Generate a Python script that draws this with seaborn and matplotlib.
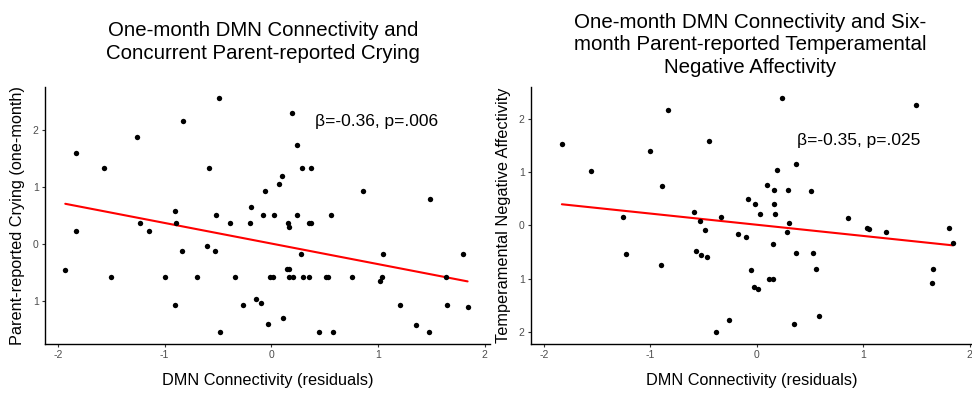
import numpy as np
import pandas as pd
import matplotlib
matplotlib.use("Agg")
import matplotlib.pyplot as plt
import seaborn as sns

# ---- data ----
crying_x = [-1.83, -1.83, -1.93, -1.565, -1.50, -1.26, -1.23, -1.15, -1.00, -0.906,
            -0.90, -0.89, -0.83, -0.84, -0.70, -0.60, -0.58, -0.53, -0.52, -0.49,
            -0.48, -0.39, -0.34, -0.26, -0.20, -0.185, -0.14, -0.10, -0.08, -0.056,
            -0.03, -0.015, 0.013, 0.025, 0.07, 0.097, 0.11, 0.15, 0.17, 0.156,
            0.17, 0.17, 0.20, 0.19, 0.24, 0.24, 0.28, 0.29, 0.30, 0.35,
            0.35, 0.37, 0.37, 0.45, 0.51, 0.53, 0.56, 0.58, 0.76, 0.86,
            1.02, 1.04, 1.05, 1.21, 1.36, 1.48, 1.49, 1.64, 1.65, 1.80, 1.84]
crying_y = [1.60, 0.23, -0.46, 1.33, -0.59, 1.88, 0.36, 0.23, -0.59, -1.07,
            0.57, 0.36, 2.15, -0.12, -0.59, -0.04, 1.33, -0.12, 0.50, 2.56,
            -1.55, 0.36, -0.59, -1.07, 0.36, 0.64, -0.97, -1.04, 0.50, 0.92,
            -1.41, -0.59, -0.59, 0.50, 1.05, 1.19, -1.31, -0.45, -0.45, 0.36,
            0.30, -0.59, -0.59, 2.29, 1.74, 0.50, -0.18, 1.33, -0.59, -0.59,
            0.36, 0.36, 1.33, -1.55, -0.59, -0.59, 0.50, -1.55, -0.59, 0.92,
            -0.66, -0.59, -0.18, -1.07, -1.43, -1.55, 0.78, -0.59, -1.07, -0.18, -1.11]

nega_x = [-1.83, -1.56, -1.26, -1.23, -1.00, -0.90, -0.89, -0.83, -0.59, -0.575,
          -0.53, -0.52, -0.49, -0.47, -0.45, -0.38, -0.34, -0.26, -0.18, -0.10,
          -0.08, -0.056, -0.03, -0.013, 0.012, 0.03, 0.097, 0.115, 0.15, 0.156,
          0.165, 0.165, 0.17, 0.19, 0.24, 0.28, 0.29, 0.305, 0.35, 0.365,
          0.37, 0.51, 0.53, 0.56, 0.58, 0.86, 1.03, 1.05, 1.21, 1.49,
          1.64, 1.65, 1.80, 1.84]
nega_y = [1.53, 1.02, 0.16, -0.54, 1.40, -0.74, 0.75, 2.17, 0.25, -0.49,
          0.09, -0.55, -0.09, -0.59, 1.58, -2.00, 0.16, -1.77, -0.16, -0.22,
          0.50, -0.83, -1.15, 0.41, -1.19, 0.21, 0.76, -1.01, -0.35, -1.00,
          0.66, 0.41, 0.21, 1.05, 2.40, -0.12, 0.66, 0.045, -1.85, 1.15,
          -0.51, 0.64, -0.51, -0.81, -1.71, 0.145, -0.04, -0.07, -0.12, 2.26,
          -1.08, -0.81, -0.04, -0.33]

x_ticks = [-2, -1, 0, 1, 2]
x_tick_labels = ["-2", "-1", "0", "1", "2"]
left_y_ticks = [-1, 0, 1, 2]
left_y_tick_labels = ["1", "0", "1", "2"]
right_y_ticks = [-2, -1, 0, 1, 2]
right_y_tick_labels = ["2", "1", "0", "1", "2"]

left_title = "One-month DMN Connectivity and\nConcurrent Parent-reported Crying"
right_title = "One-month DMN Connectivity and Six-\nmonth Parent-reported Temperamental\nNegative Affectivity"
left_ylabel = "Parent-reported Crying (one-month)"
right_ylabel = "Temperamental Negative Affectivity"
xlabel = "DMN Connectivity (residuals)"
left_note = "β=-0.36, p=.006"
right_note = "β=-0.35, p=.025"

# ---- style ----
sns.set_theme(style="ticks")
plt.rcParams["font.family"] = ["Liberation Sans", "DejaVu Sans"]
plt.rcParams["axes.unicode_minus"] = False

fig = plt.figure(figsize=(9.72, 3.93), dpi=100)
axL = fig.add_axes([45 / 972, 1 - 344 / 393, 445 / 972, 257 / 393])
axR = fig.add_axes([531 / 972, 1 - 344 / 393, 441 / 972, 257.3 / 393])

dfL = pd.DataFrame({"x": crying_x, "y": crying_y})
dfR = pd.DataFrame({"x": nega_x, "y": nega_y})

for ax, df, yt, ytl, ylab, lims in [
    (axL, dfL, left_y_ticks, left_y_tick_labels, left_ylabel, ((-2.12, 2.05), (-1.76, 2.75))),
    (axR, dfR, right_y_ticks, right_y_tick_labels, right_ylabel, ((-2.12, 2.02), (-2.23, 2.61))),
]:
    sns.regplot(data=df, x="x", y="y", ax=ax, ci=None, truncate=True,
                scatter_kws=dict(s=15, color="black", alpha=1, linewidths=0, zorder=3),
                line_kws=dict(color="#ff0000", lw=1.5, zorder=2))
    ax.set_xlim(*lims[0])
    ax.set_ylim(*lims[1])
    ax.set_xticks(x_ticks)
    ax.set_xticklabels(x_tick_labels)
    ax.set_yticks(yt)
    ax.set_yticklabels(ytl)
    ax.tick_params(axis="both", labelsize=7.5, labelcolor="#4d4d4d", color="#333333",
                   length=2.5, width=0.8, pad=2)
    for s in ["top", "right"]:
        ax.spines[s].set_visible(False)
    for s in ["left", "bottom"]:
        ax.spines[s].set_color("black")
        ax.spines[s].set_linewidth(1.0)
    ax.set_xlabel(xlabel, fontsize=11.7, color="black", labelpad=9)
    ax.set_ylabel(ylab, fontsize=11.7, color="black", labelpad=6)
    ax.set_facecolor("white")

axL.text(0.99, 2.15, left_note, fontsize=12.5, ha="center", va="center", color="black")
axR.text(0.96, 1.59, right_note, fontsize=12.5, ha="center", va="center", color="black")

fig.text(263 / 972, 1 - 42 / 393, left_title, ha="center", va="center", fontsize=14.7,
         linespacing=1.27, color="black")
fig.text(750 / 972, 1 - 45 / 393, right_title, ha="center", va="center", fontsize=14.8,
         linespacing=1.22, color="black")

fig.savefig("out.png", dpi=100, facecolor="white")
